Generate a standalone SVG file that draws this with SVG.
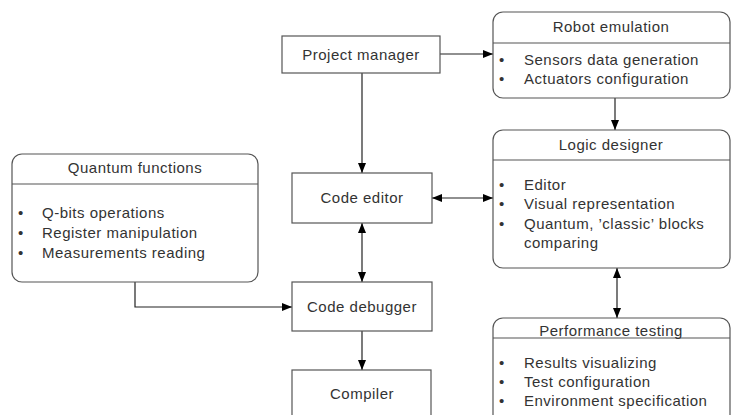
<svg xmlns="http://www.w3.org/2000/svg" width="732" height="415" viewBox="0 0 732 415">
  <style>
    .box { fill: #ffffff; stroke: #555555; stroke-width: 1.2; }
    .sep { stroke: #555555; stroke-width: 1.2; }
    .t { font-family: "Liberation Sans", Arial, sans-serif; font-size: 15px; letter-spacing: 0.5px; fill: #333333; }
    .c { text-anchor: middle; }
    .wire { fill: none; stroke: #222222; stroke-width: 1.2; }
  </style>
  <defs>
    <marker id="ah" viewBox="0 0 10 8" refX="10" refY="4" markerWidth="10" markerHeight="8" markerUnits="userSpaceOnUse" orient="auto-start-reverse">
      <path d="M0,0 L10,4 L0,8 Z" fill="#000000"/>
    </marker>
  </defs>
  <rect width="732" height="415" fill="#ffffff"/>

  <g id="connectors">
    <path class="wire" d="M440,54 H493" marker-end="url(#ah)"/>
    <path class="wire" d="M362,73 V173" marker-end="url(#ah)"/>
    <path class="wire" d="M615,98 V130" marker-end="url(#ah)"/>
    <path class="wire" d="M432,198 H493" marker-start="url(#ah)" marker-end="url(#ah)"/>
    <path class="wire" d="M362,223 V282" marker-start="url(#ah)" marker-end="url(#ah)"/>
    <path class="wire" d="M135,282 V307 H292" marker-end="url(#ah)"/>
    <path class="wire" d="M362,331 V370" marker-end="url(#ah)"/>
    <path class="wire" d="M617,268 V318" marker-start="url(#ah)" marker-end="url(#ah)"/>
  </g>

  <g id="project-manager">
    <rect class="box" x="282" y="36" width="158" height="37"/>
    <text class="t c" x="361" y="60">Project manager</text>
  </g>

  <g id="robot-emulation">
    <rect class="box" x="493" y="12" width="237" height="86" rx="10"/>
    <line class="sep" x1="493" y1="43" x2="730" y2="43"/>
    <text class="t c" x="611" y="32">Robot emulation</text>
    <text class="t" x="499" y="65">•</text><text class="t" x="524" y="65">Sensors data generation</text>
    <text class="t" x="499" y="84">•</text><text class="t" x="524" y="84">Actuators configuration</text>
  </g>

  <g id="quantum-functions">
    <rect class="box" x="12" y="154" width="246" height="128" rx="10"/>
    <line class="sep" x1="12" y1="184" x2="258" y2="184"/>
    <text class="t c" x="135" y="173">Quantum functions</text>
    <text class="t" x="18" y="218">•</text><text class="t" x="42" y="218">Q-bits operations</text>
    <text class="t" x="18" y="238">•</text><text class="t" x="42" y="238">Register manipulation</text>
    <text class="t" x="18" y="258">•</text><text class="t" x="42" y="258">Measurements reading</text>
  </g>

  <g id="code-editor">
    <rect class="box" x="292" y="173" width="140" height="50"/>
    <text class="t c" x="362" y="203">Code editor</text>
  </g>

  <g id="logic-designer">
    <rect class="box" x="493" y="130" width="237" height="138" rx="10"/>
    <line class="sep" x1="493" y1="160" x2="730" y2="160"/>
    <text class="t c" x="611" y="150">Logic designer</text>
    <text class="t" x="499" y="190">•</text><text class="t" x="524" y="190">Editor</text>
    <text class="t" x="499" y="209">•</text><text class="t" x="524" y="209">Visual representation</text>
    <text class="t" x="499" y="229">•</text><text class="t" x="524" y="229">Quantum, ’classic’ blocks</text>
    <text class="t" x="524" y="248">comparing</text>
  </g>

  <g id="code-debugger">
    <rect class="box" x="292" y="282" width="140" height="49"/>
    <text class="t c" x="362" y="312">Code debugger</text>
  </g>

  <g id="compiler">
    <rect class="box" x="292" y="370" width="139" height="60"/>
    <text class="t c" x="362" y="399">Compiler</text>
  </g>

  <g id="performance-testing">
    <path class="box" d="M493,422 V328 A10,10 0 0 1 503,318 H720 A10,10 0 0 1 730,328 V422"/>
    <line class="sep" x1="493" y1="338" x2="730" y2="338"/>
    <text class="t c" x="611" y="336">Performance testing</text>
    <text class="t" x="499" y="368">•</text><text class="t" x="524" y="368">Results visualizing</text>
    <text class="t" x="499" y="387">•</text><text class="t" x="524" y="387">Test configuration</text>
    <text class="t" x="499" y="406">•</text><text class="t" x="524" y="406">Environment specification</text>
  </g>
</svg>
